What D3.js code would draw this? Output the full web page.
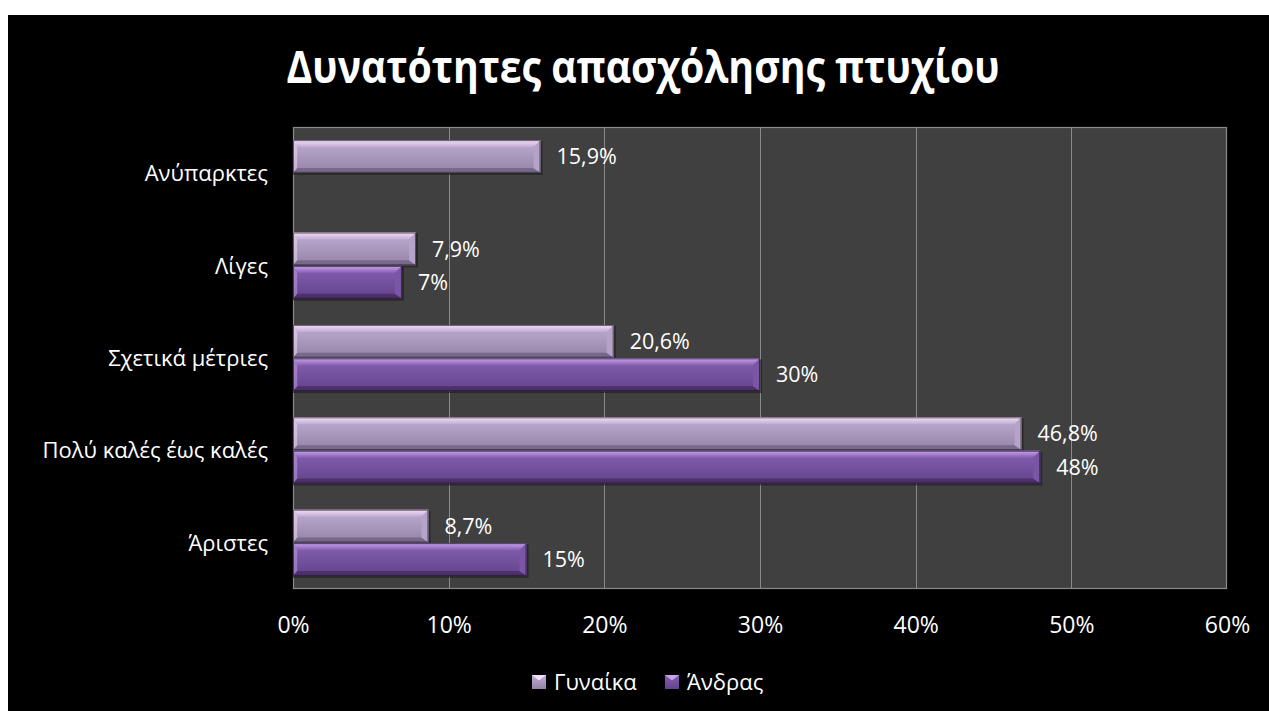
<!DOCTYPE html>
<html><head><meta charset="utf-8">
<script src="https://cdn.jsdelivr.net/npm/d3@7"></script>
<style>html,body{margin:0;padding:0;background:#fff;}svg{display:block;}</style>
</head><body>
<svg id="c" width="1269" height="711"></svg>
<script>
const title = "Δυνατότητες απασχόλησης πτυχίου";
const categories = ["Ανύπαρκτες", "Λίγες", "Σχετικά μέτριες", "Πολύ καλές έως καλές", "Άριστες"];
const seriesNames = ["Γυναίκα", "Άνδρας"];
const womenValues = [15.9, 7.9, 20.6, 46.8, 8.7];
const menValues = [null, 7, 30, 48, 15];
const womenLabels = ["15,9%", "7,9%", "20,6%", "46,8%", "8,7%"];
const menLabels = ["", "7%", "30%", "48%", "15%"];
const xTicks = [0, 10, 20, 30, 40, 50, 60];

const svg = d3.select("#c");
const W = 1269, H = 711;
const font = "'Open Sans', 'Noto Sans', sans-serif";

svg.append("rect").attr("x", 8).attr("y", 15).attr("width", W - 8).attr("height", H - 15).attr("fill", "#000");

const plot = {l: 293, r: 1227, t: 127, b: 589};
const x = d3.scaleLinear().domain([0, 60]).range([plot.l, plot.r]);
const y0 = d3.scaleBand().domain(categories).range([plot.t, plot.b]).padding(0);
const groupFrac = 0.73;
const y1 = d3.scaleBand().domain(seriesNames).range([0, y0.bandwidth() * groupFrac]).padding(0.02);

svg.append("rect").attr("x", plot.l).attr("y", plot.t).attr("width", plot.r - plot.l).attr("height", plot.b - plot.t).attr("fill", "#404040");

svg.append("g").selectAll("line").data(xTicks.slice(1, -1)).join("line")
  .attr("x1", d => Math.round(x(d)) + 0.5).attr("x2", d => Math.round(x(d)) + 0.5)
  .attr("y1", plot.t).attr("y2", plot.b).attr("stroke", "#8a8a8a").attr("stroke-width", 1);
svg.append("rect").attr("x", plot.l + 0.5).attr("y", plot.t + 0.5).attr("width", plot.r - plot.l - 1).attr("height", plot.b - plot.t - 1)
  .attr("fill", "none").attr("stroke", "#8a8a8a").attr("stroke-width", 1.2);

const defs = svg.append("defs");
const pal = {
  "Γυναίκα": {top: "#f5def9", g0: "#c0acd2", g1: "#9483a7", bot: "#6e5f80", end: "#b5a3c8", edge: "#2e2638"},
  "Άνδρας": {top: "#c9a2ec", g0: "#8660b2", g1: "#63438c", bot: "#45295f", end: "#7b56a6", edge: "#221530"}
};
seriesNames.forEach((s, i) => {
  const g = defs.append("linearGradient").attr("id", "grad" + i).attr("x1", 0).attr("y1", 0).attr("x2", 0).attr("y2", 1);
  g.append("stop").attr("offset", "0%").attr("stop-color", pal[s].g0);
  g.append("stop").attr("offset", "100%").attr("stop-color", pal[s].g1);
  const t = defs.append("linearGradient").attr("id", "top" + i).attr("x1", 0).attr("y1", 0).attr("x2", 0).attr("y2", 1);
  t.append("stop").attr("offset", "0%").attr("stop-color", pal[s].top);
  t.append("stop").attr("offset", "100%").attr("stop-color", pal[s].g0);
});

const data = [];
categories.forEach((c, i) => {
  data.push({cat: c, s: seriesNames[0], si: 0, v: womenValues[i], label: womenLabels[i]});
  data.push({cat: c, s: seriesNames[1], si: 1, v: menValues[i], label: menLabels[i]});
});

const groupOffset = (y0.bandwidth() - y0.bandwidth() * groupFrac) / 2;
const bars = svg.append("g");
data.filter(d => d.v != null && d.v > 0).forEach(d => {
  const yTop = y0(d.cat) + groupOffset + y1(d.s);
  const h = y1.bandwidth();
  const x0 = x(0), x1 = x(d.v);
  const b = 7;
  const g = bars.append("g");
  g.append("rect").attr("x", x0).attr("y", yTop + 1).attr("width", x1 - x0 + 2).attr("height", h + 1).attr("fill", "#1a1a1a").attr("opacity", 0.6);
  g.append("rect").attr("x", x0).attr("y", yTop).attr("width", x1 - x0).attr("height", h).attr("fill", `url(#grad${d.si})`);
  g.append("polygon").attr("points", [[x0, yTop], [x1, yTop], [x1 - b, yTop + b], [x0 + b * 0.6, yTop + b]].map(p => p.join(",")).join(" "))
    .attr("fill", `url(#top${d.si})`);
  g.append("polygon").attr("points", [[x0, yTop + h], [x1, yTop + h], [x1 - b, yTop + h - b * 0.7], [x0 + b * 0.6, yTop + h - b * 0.7]].map(p => p.join(",")).join(" "))
    .attr("fill", pal[d.s].bot).attr("opacity", 0.75);
  g.append("polygon").attr("points", [[x1, yTop], [x1, yTop + h], [x1 - b, yTop + h - b * 0.7], [x1 - b, yTop + b]].map(p => p.join(",")).join(" "))
    .attr("fill", pal[d.s].end);
  g.append("polygon").attr("points", [[x0, yTop], [x0 + b * 0.6, yTop + b], [x0 + b * 0.6, yTop + h - b * 0.7], [x0, yTop + h]].map(p => p.join(",")).join(" "))
    .attr("fill", pal[d.s].top).attr("opacity", 0.5);
  g.append("rect").attr("x", x0 + 0.5).attr("y", yTop + 0.5).attr("width", x1 - x0 - 1).attr("height", h - 1)
    .attr("fill", "none").attr("stroke", pal[d.s].edge).attr("stroke-width", 1).attr("opacity", 0.7);
  svg.append("text").attr("x", x1 + 16).attr("y", yTop + h / 2).attr("dy", "0.36em")
    .attr("fill", "#fff").attr("font-family", font).attr("font-size", 21.5).text(d.label);
});

svg.append("g").selectAll("text").data(categories).join("text")
  .attr("x", 268).attr("y", d => y0(d) + y0.bandwidth() / 2).attr("dy", "0.36em")
  .attr("text-anchor", "end").attr("fill", "#fff").attr("font-family", font).attr("font-size", 22).text(d => d);

const xAxis = d3.axisBottom(x).tickValues(xTicks).tickFormat(d => d + "%").tickSize(0).tickPadding(0);
const ax = svg.append("g").attr("transform", `translate(0, ${plot.b})`).call(xAxis);
ax.select(".domain").remove();
ax.selectAll("text").attr("fill", "#fff").attr("font-family", font).attr("font-size", 23).attr("dy", null).attr("y", 44);

svg.append("text").attr("x", 643).attr("y", 83).attr("text-anchor", "middle").attr("fill", "#fff")
  .attr("font-family", font).attr("font-weight", "bold").attr("font-size", 44)
  .attr("textLength", 713).attr("lengthAdjust", "spacingAndGlyphs").text(title);

const legend = svg.append("g");
const legX = [532, 665];
seriesNames.forEach((s, i) => {
  const lx = legX[i], ly = 675;
  legend.append("rect").attr("x", lx).attr("y", ly).attr("width", 14).attr("height", 14).attr("fill", `url(#grad${i})`);
  legend.append("polygon").attr("points", `${lx},${ly} ${lx+14},${ly} ${lx+7},${ly+5.5}`).attr("fill", pal[s].top);
  legend.append("text").attr("x", lx + 22).attr("y", ly + 7).attr("dy", "0.36em").attr("fill", "#fff")
    .attr("font-family", font).attr("font-size", 22).text(s);
});
</script>
</body></html>
